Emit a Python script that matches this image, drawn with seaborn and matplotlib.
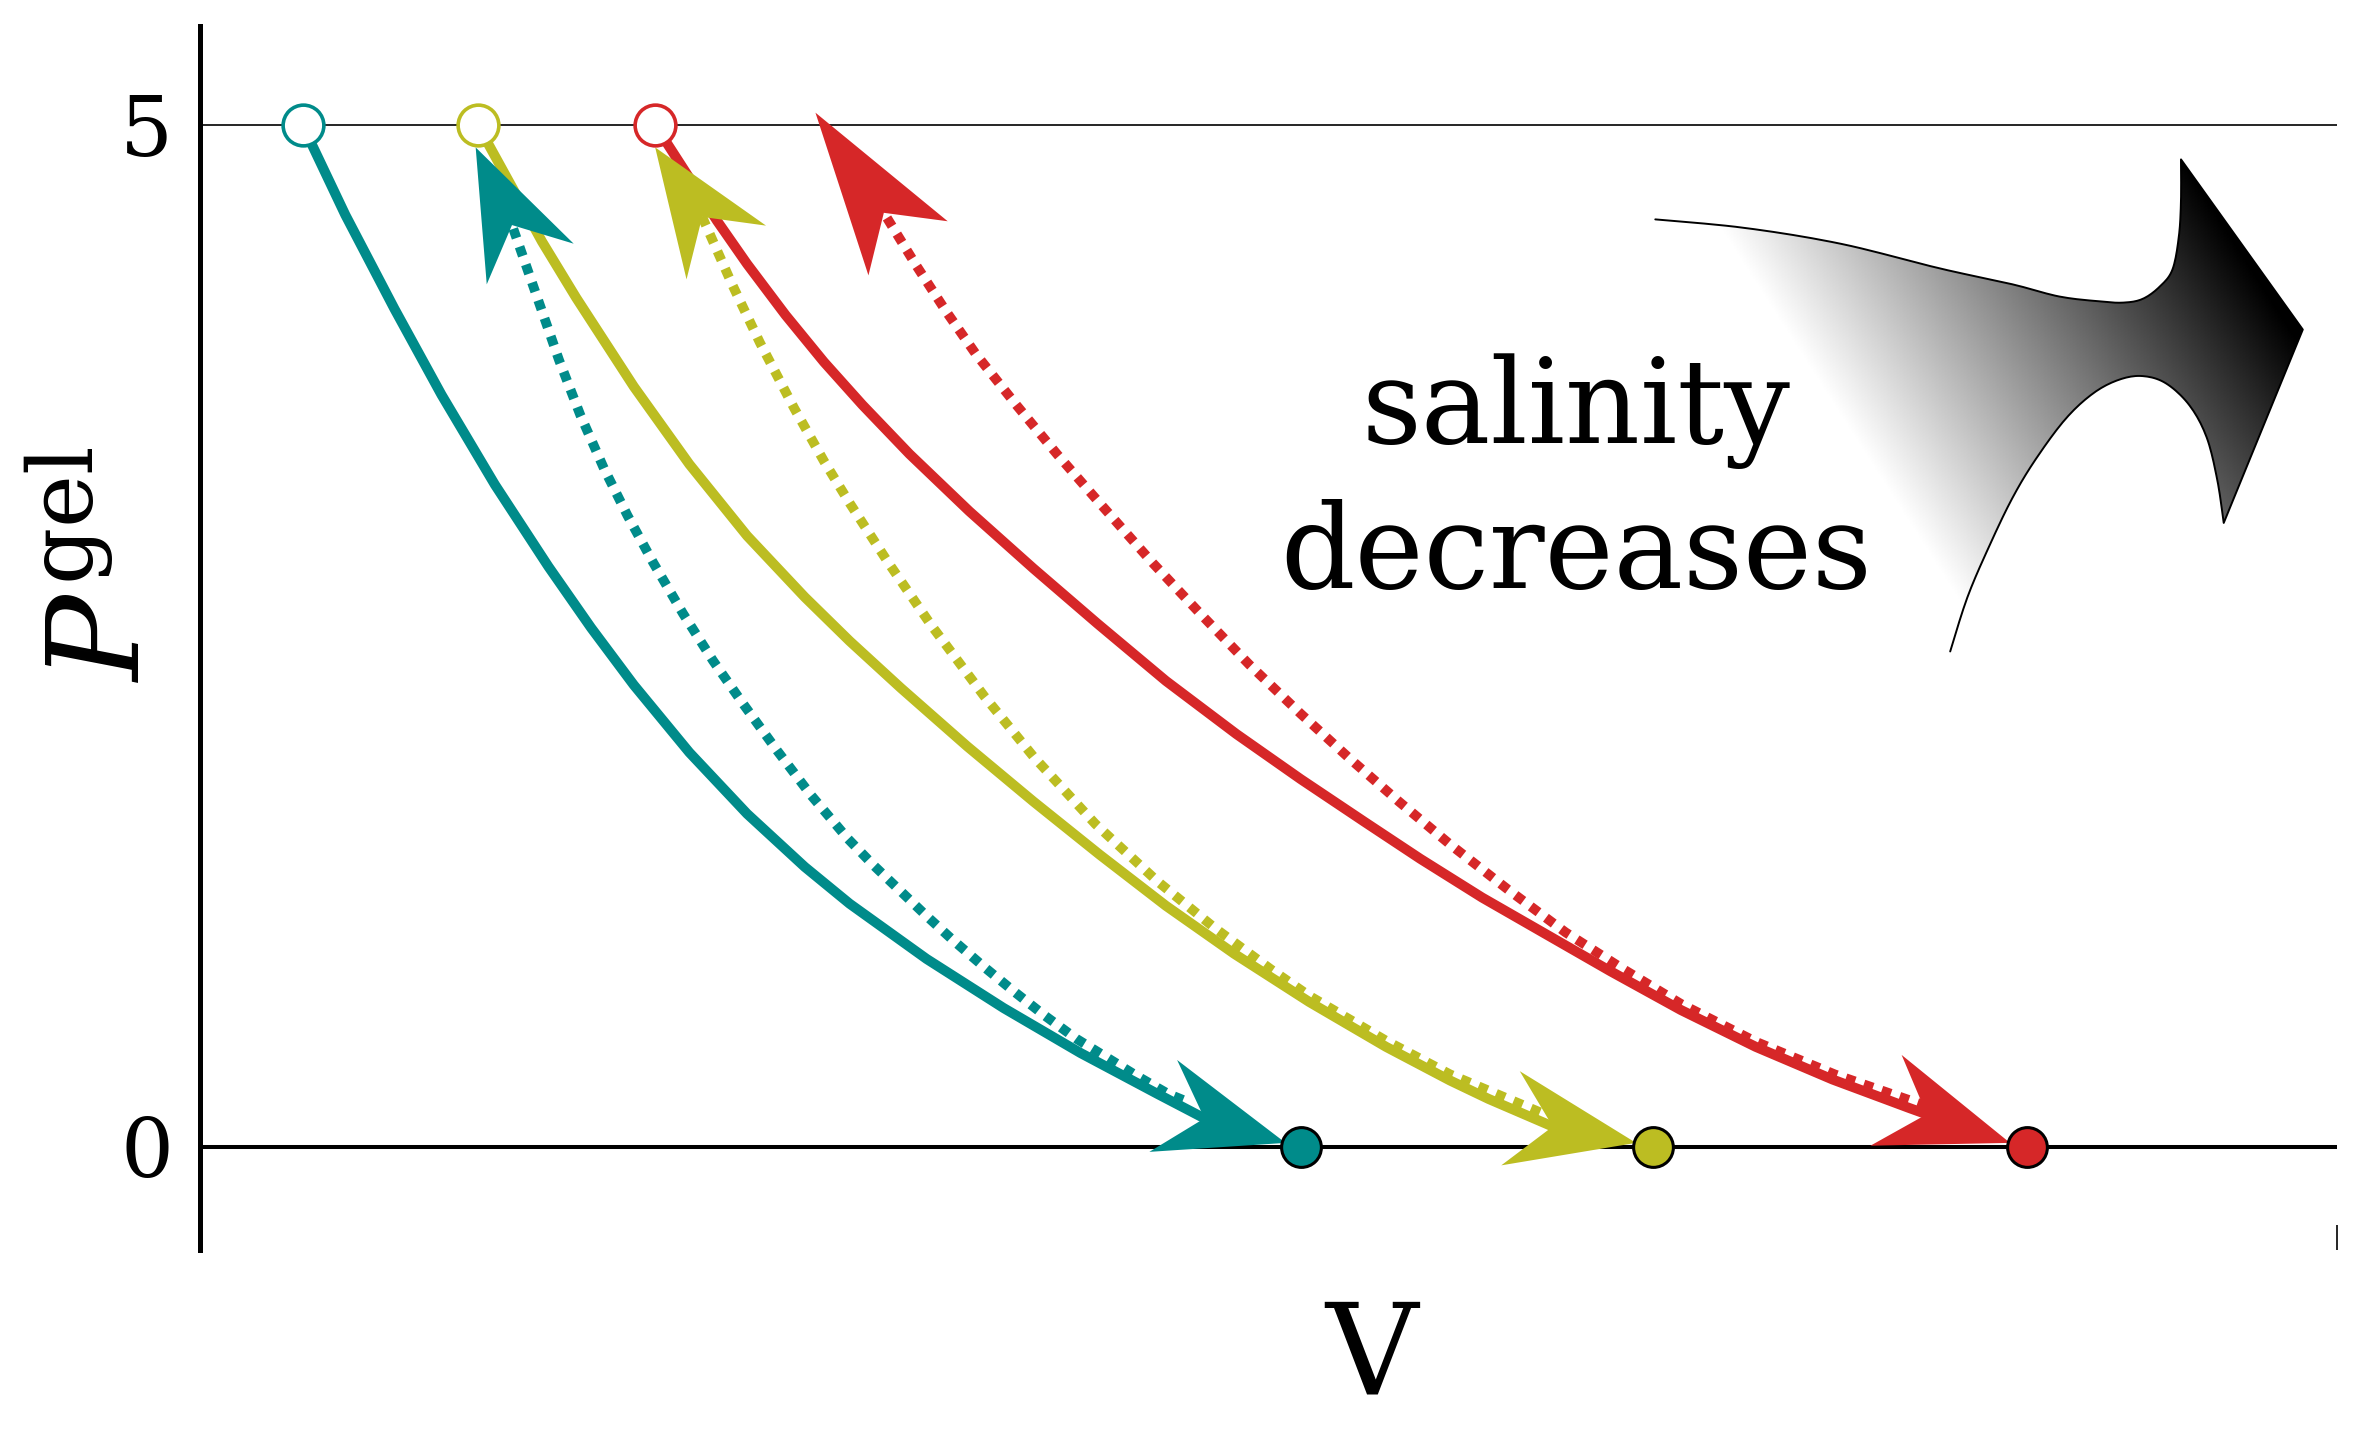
import numpy as np
import matplotlib
matplotlib.use("Agg")
import matplotlib.pyplot as plt
from matplotlib.patches import Polygon
import seaborn as sns

# ---- data: gel pressure P vs volume V for three salinities ----
colors = ["#008b8a", "#bcbd22", "#d62728"]
start_v = [0.48, 1.30, 2.13]      # open circles, P = 5
end_v = [5.15, 6.80, 8.55]        # filled circles, P = 0
p_top = 5
p_bottom = 0

# solid branches (open circle -> filled circle)
teal_solid_v = [0.48, 0.68, 0.91, 1.13, 1.38, 1.63, 1.83, 2.03, 2.29, 2.56, 2.83, 3.04,
                3.40, 3.76, 4.12, 4.48, 4.70]
teal_solid_p = [5.00, 4.56, 4.10, 3.68, 3.24, 2.84, 2.54, 2.26, 1.93, 1.63, 1.37, 1.19,
                0.92, 0.68, 0.46, 0.26, 0.14]
olive_solid_v = [1.30, 1.60, 1.76, 2.03, 2.29, 2.56, 2.83, 3.04, 3.28, 3.59, 3.90, 4.21,
                 4.52, 4.84, 5.19, 5.55, 5.85, 6.03, 6.33]
olive_solid_p = [5.00, 4.43, 4.155, 3.72, 3.34, 2.99, 2.69, 2.475, 2.245, 1.96, 1.69, 1.43,
                 1.18, 0.945, 0.71, 0.49, 0.325, 0.235, 0.10]
red_solid_v = [2.13, 2.42, 2.56, 2.74, 2.92, 3.10, 3.32, 3.60, 3.90, 4.20, 4.52, 4.85,
               5.15, 5.45, 5.71, 6.00, 6.30, 6.60, 6.93, 7.28, 7.64, 8.00, 8.08]
red_solid_p = [5.00, 4.53, 4.32, 4.07, 3.84, 3.63, 3.39, 3.11, 2.83, 2.56, 2.28, 2.02,
               1.80, 1.59, 1.41, 1.22, 1.04, 0.86, 0.67, 0.49, 0.33, 0.19, 0.16]

# dotted branches (back up towards the next starting state)
teal_dot_v = [4.60, 4.53, 4.38, 4.24, 4.10, 3.95, 3.81, 3.67, 3.52, 3.40, 3.28, 3.15,
              3.03, 2.86, 2.70, 2.54, 2.40, 2.26, 2.12, 2.00, 1.89, 1.78, 1.68, 1.60,
              1.49, 1.46]
teal_dot_p = [0.23, 0.26, 0.35, 0.44, 0.53, 0.645, 0.76, 0.88, 1.015, 1.13, 1.25, 1.38,
              1.51, 1.72, 1.94, 2.17, 2.38, 2.61, 2.86, 3.09, 3.32, 3.58, 3.85, 4.09,
              4.42, 4.51]
olive_dot_v = [6.27, 5.85, 5.55, 5.19, 5.01, 4.75, 4.48, 4.19, 3.90, 3.67, 3.42, 3.22,
               3.04, 2.92, 2.78, 2.62, 2.49, 2.35]
olive_dot_p = [0.17, 0.355, 0.52, 0.74, 0.87, 1.07, 1.30, 1.58, 1.91, 2.205, 2.555, 2.86,
               3.15, 3.355, 3.615, 3.935, 4.22, 4.55]
red_dot_v = [8.08, 7.65, 7.28, 6.93, 6.66, 6.39, 6.12, 5.85, 5.61, 5.38, 5.15, 4.91,
             4.68, 4.46, 4.21, 4.01, 3.82, 3.63, 3.49, 3.35, 3.20]
red_dot_p = [0.20, 0.355, 0.515, 0.70, 0.87, 1.05, 1.26, 1.48, 1.69, 1.90, 2.12, 2.36,
             2.61, 2.855, 3.15, 3.39, 3.63, 3.88, 4.09, 4.315, 4.57]

# arrow tips
down_tip_v = [5.08, 6.72, 8.47]
down_tip_p = [0.02, 0.02, 0.02]
up_tip_v = [1.29, 2.13, 2.88]
up_tip_p = [4.89, 4.89, 5.06]

solid_v = [teal_solid_v, olive_solid_v, red_solid_v]
solid_p = [teal_solid_p, olive_solid_p, red_solid_p]
dot_v = [teal_dot_v, olive_dot_v, red_dot_v]
dot_p = [teal_dot_p, olive_dot_p, red_dot_p]

# outline of the "salinity decreases" arrow (axes fraction)
badge_upper = [(0.681, 0.842), (0.723, 0.835), (0.768, 0.822), (0.814, 0.802), (0.848, 0.789),
               (0.870, 0.779), (0.889, 0.775), (0.900, 0.774), (0.909, 0.777), (0.917, 0.787),
               (0.923, 0.801), (0.926, 0.828), (0.927, 0.857), (0.927, 0.891)]
badge_tip = (0.984, 0.752)
badge_lower = [(0.947, 0.594), (0.944, 0.629), (0.939, 0.664), (0.931, 0.690), (0.920, 0.708),
               (0.909, 0.714), (0.898, 0.711), (0.886, 0.700), (0.873, 0.679), (0.859, 0.646),
               (0.848, 0.614), (0.837, 0.574), (0.827, 0.533), (0.819, 0.489)]
grad_start = (0.832, 0.507)
grad_end = (1.0, 0.695)


def smooth(points, n=10):
    pts = np.asarray(points, dtype=float)
    ext = np.vstack([pts[0], pts, pts[-1]])
    out = []
    for i in range(1, len(ext) - 2):
        p0, p1, p2, p3 = ext[i - 1], ext[i], ext[i + 1], ext[i + 2]
        for t in np.linspace(0, 1, n, endpoint=False):
            out.append(0.5 * (2 * p1 + (-p0 + p2) * t + (2 * p0 - 5 * p1 + 4 * p2 - p3) * t * t
                              + (-p0 + 3 * p1 - 3 * p2 + p3) * t ** 3))
    out.append(pts[-1])
    return np.array(out)


def arrow_head(ax, notch, tip, color, back=43, half_w=48):
    tr = ax.transData
    n_px = tr.transform(notch)
    t_px = tr.transform(tip)
    u = t_px - n_px
    depth = np.hypot(*u)
    u = u / depth
    perp = np.array([-u[1], u[0]])
    length = depth + back
    w1 = t_px - length * u + half_w * perp
    w2 = t_px - length * u - half_w * perp
    pts = tr.inverted().transform(np.array([t_px, w1, n_px, w2]))
    ax.add_patch(Polygon(pts, closed=True, fc=color, ec="none", zorder=3))


sns.set_style("white")
plt.rcParams["font.family"] = ["DejaVu Serif"]
plt.rcParams["mathtext.fontset"] = "dejavuserif"
plt.rcParams["text.color"] = "black"

fig = plt.figure(figsize=(11.805, 7.26), dpi=200)
ax = fig.add_axes([0.08471, 0.13912, 0.90512, 0.84298])

ax.axhline(p_top, color="black", lw=0.6, zorder=1)
ax.axhline(p_bottom, color="black", lw=1.45, zorder=1)

for i, c in enumerate(colors):
    notch = (solid_v[i][-1], solid_p[i][-1])
    tip = (down_tip_v[i], down_tip_p[i])
    sv = solid_v[i] + [(notch[0] + tip[0]) / 2]
    sp = solid_p[i] + [(notch[1] + tip[1]) / 2]
    sns.lineplot(x=sv, y=sp, sort=False, estimator=None, color=c, lw=3.6,
                 solid_capstyle="butt", solid_joinstyle="round", ax=ax, zorder=2)
    sns.lineplot(x=dot_v[i], y=dot_p[i], sort=False, estimator=None, color=c, lw=3.5,
                 linestyle=(0, (1, 0.95)), dash_capstyle="butt", ax=ax, zorder=2)

# gradient arrow
outline = np.vstack([smooth(badge_upper), [badge_tip], smooth(badge_lower)])
clip = Polygon(outline, closed=True, transform=ax.transAxes, fc="none", ec="none")
x0, x1, y0, y1 = 0.66, 1.0, 0.47, 0.91
gx, gy = np.meshgrid(np.linspace(x0, x1, 500), np.linspace(y0, y1, 500))
pix = ax.transAxes.transform(np.column_stack([gx.ravel(), gy.ravel()]))
s = ax.transAxes.transform(grad_start)
e = ax.transAxes.transform(grad_end)
d = e - s
q = np.clip(((pix - s) @ d) / (d @ d), 0, 1).reshape(gx.shape)
im = ax.imshow(q, extent=(x0, x1, y0, y1), origin="lower", cmap="gray_r", vmin=0, vmax=1,
               transform=ax.transAxes, aspect="auto", interpolation="bilinear", zorder=1)
im.set_clip_path(clip)
ax.plot(outline[:, 0], outline[:, 1], color="black", lw=0.7, transform=ax.transAxes, zorder=2)

ax.set_xlim(0, 10)
ax.set_ylim(-0.504, 5.484)

for i, c in enumerate(colors):
    arrow_head(ax, (solid_v[i][-1], solid_p[i][-1]), (down_tip_v[i], down_tip_p[i]), c)
    arrow_head(ax, (dot_v[i][-1], dot_p[i][-1]), (up_tip_v[i], up_tip_p[i]), c)

for i, c in enumerate(colors):
    sns.scatterplot(x=[start_v[i]], y=[p_top], s=215, color="white", edgecolor=c,
                    linewidth=1.3, ax=ax, zorder=5)
    sns.scatterplot(x=[end_v[i]], y=[p_bottom], s=205, color=c, edgecolor="black",
                    linewidth=1.1, ax=ax, zorder=5)

# va="baseline" anchors the last line of a multi-line text
ax.text(6.44, 2.735, "salinity\ndecreases", fontsize=42, ha="center", va="baseline",
        linespacing=1.32, color="black")

for side in ["top", "right", "bottom"]:
    ax.spines[side].set_visible(False)
ax.spines["left"].set_linewidth(1.8)
ax.spines["left"].set_color("black")

ax.set_yticks([0, 5])
ax.set_yticklabels(["0", "5"])
ax.tick_params(axis="y", left=False, length=0, pad=9.7, labelsize=30, labelcolor="black")
ax.set_xticks([10])
ax.tick_params(axis="x", bottom=True, direction="in", length=9, width=0.6,
               color="black", labelbottom=False)

ax.set_xlabel("V", fontsize=46, va="baseline", color="black")
ax.xaxis.set_label_coords(0.548, -0.117)
ax.set_ylabel(r"$P^{\rm gel}$", fontsize=46, color="black")
ax.yaxis.set_label_coords(-0.015, 0.56)

fig.savefig("out.png", dpi=200)
